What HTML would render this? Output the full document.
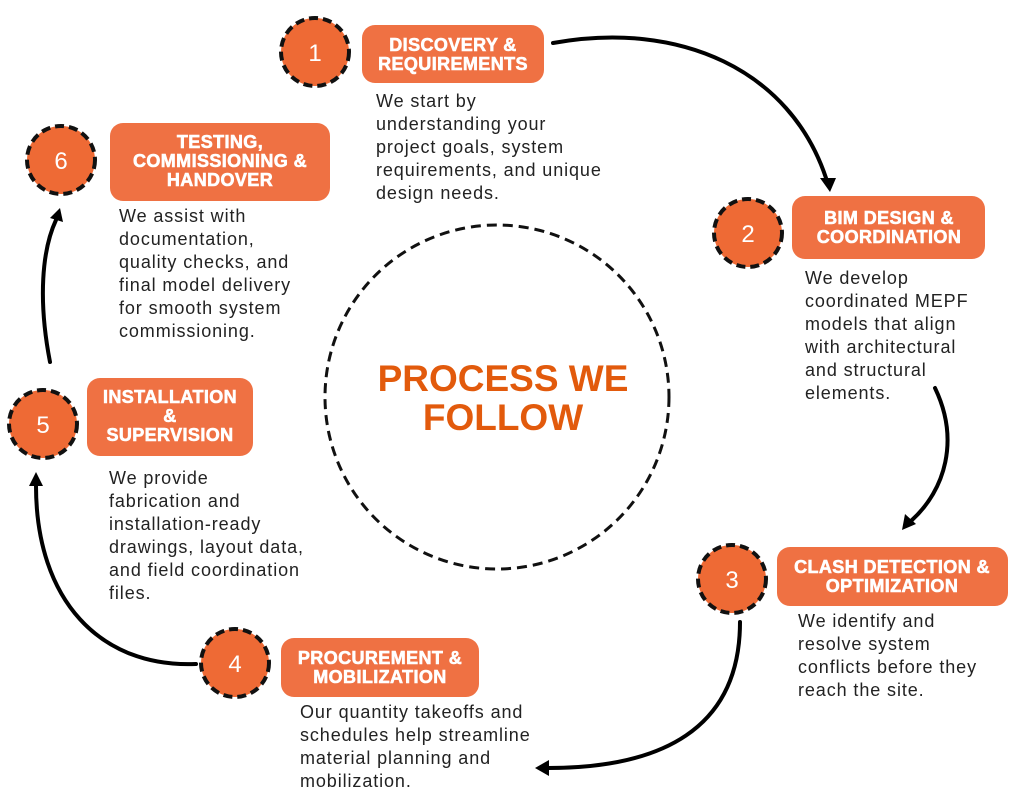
<!DOCTYPE html>
<html><head><meta charset="utf-8"><style>
html,body{margin:0;padding:0;background:#fff;width:1024px;height:800px;overflow:hidden}
svg{display:block}
.h{font-family:"Liberation Sans",sans-serif;font-weight:900;fill:#fff;font-size:18px;text-anchor:middle;letter-spacing:0.4px;stroke:#fff;stroke-width:0.6}
.d{font-family:"Liberation Sans",sans-serif;fill:#222;font-size:18px;letter-spacing:0.9px}
.n{font-family:"Liberation Sans",sans-serif;fill:#fff;font-size:24px;text-anchor:middle}
.c{fill:#ee6a35;stroke:#111;stroke-width:4;stroke-dasharray:9 5}
.b{fill:#ef7143}
.a{fill:none;stroke:#000;stroke-width:4;stroke-linecap:round}
</style></head><body>
<svg width="1024" height="800" viewBox="0 0 1024 800">
<circle cx="497" cy="397" r="172" fill="none" stroke="#111" stroke-width="3" stroke-dasharray="10 6"/>
<text x="503" y="391" font-family="Liberation Sans,sans-serif" font-weight="700" font-size="37" fill="#e25a0c" text-anchor="middle">PROCESS WE</text>
<text x="503" y="430" font-family="Liberation Sans,sans-serif" font-weight="700" font-size="37" fill="#e25a0c" text-anchor="middle">FOLLOW</text>

<path class="a" d="M553,43 C680,20 790,70 826,178"/>
<polygon points="820,178 836,178 830,192"/>
<path class="a" d="M935,388 C960,440 945,490 912,520"/>
<polygon points="905,514 916,524 902,530"/>
<path class="a" d="M740,622 C740,730 660,768 548,768"/>
<polygon points="549,760 549,776 535,768"/>
<path class="a" d="M196,664 C100,668 36,600 36,486"/>
<polygon points="29,486 43,486 36,472"/>
<path class="a" d="M50,362 C38,300 42,250 56,220"/>
<polygon points="50,218 63,222 60,208"/>

<circle class="c" cx="315" cy="52" r="34"/><text class="n" x="315" y="61">1</text>
<rect class="b" x="362" y="25" width="182" height="58" rx="13"/>
<text class="h" x="453" y="51">DISCOVERY &amp;</text><text class="h" x="453" y="70">REQUIREMENTS</text>
<text class="d" x="376" y="107"> We start by</text><text class="d" x="376" y="130">understanding your</text><text class="d" x="376" y="153">project goals, system</text><text class="d" x="376" y="176">requirements, and unique</text><text class="d" x="376" y="199">design needs.</text>

<circle class="c" cx="748" cy="233" r="34"/><text class="n" x="748" y="242">2</text>
<rect class="b" x="792" y="196" width="193" height="63" rx="13"/>
<text class="h" x="889" y="224">BIM DESIGN &amp;</text><text class="h" x="889" y="243">COORDINATION</text>
<text class="d" x="805" y="284">We develop</text><text class="d" x="805" y="307">coordinated MEPF</text><text class="d" x="805" y="330">models that align</text><text class="d" x="805" y="353">with architectural</text><text class="d" x="805" y="376">and structural</text><text class="d" x="805" y="399">elements.</text>

<circle class="c" cx="732" cy="579" r="34"/><text class="n" x="732" y="588">3</text>
<rect class="b" x="777" y="547" width="231" height="59" rx="13"/>
<text class="h" x="892" y="573">CLASH DETECTION &amp;</text><text class="h" x="892" y="592">OPTIMIZATION</text>
<text class="d" x="798" y="627">We identify and</text><text class="d" x="798" y="650">resolve system</text><text class="d" x="798" y="673">conflicts before they</text><text class="d" x="798" y="696">reach the site.</text>

<circle class="c" cx="235" cy="663" r="34"/><text class="n" x="235" y="672">4</text>
<rect class="b" x="281" y="638" width="198" height="59" rx="13"/>
<text class="h" x="380" y="664">PROCUREMENT &amp;</text><text class="h" x="380" y="683">MOBILIZATION</text>
<text class="d" x="300" y="718">Our quantity takeoffs and</text><text class="d" x="300" y="741">schedules help streamline</text><text class="d" x="300" y="764">material planning and</text><text class="d" x="300" y="787">mobilization.</text>

<circle class="c" cx="43" cy="424" r="34"/><text class="n" x="43" y="433">5</text>
<rect class="b" x="87" y="378" width="166" height="78" rx="13"/>
<text class="h" x="170" y="403">INSTALLATION</text><text class="h" x="170" y="422">&amp;</text><text class="h" x="170" y="441">SUPERVISION</text>
<text class="d" x="109" y="484">We provide</text><text class="d" x="109" y="507">fabrication and</text><text class="d" x="109" y="530">installation-ready</text><text class="d" x="109" y="553">drawings, layout data,</text><text class="d" x="109" y="576">and field coordination</text><text class="d" x="109" y="599">files.</text>

<circle class="c" cx="61" cy="160" r="34"/><text class="n" x="61" y="169">6</text>
<rect class="b" x="110" y="123" width="220" height="78" rx="13"/>
<text class="h" x="220" y="148">TESTING,</text><text class="h" x="220" y="167">COMMISSIONING &amp;</text><text class="h" x="220" y="186">HANDOVER</text>
<text class="d" x="119" y="222">We assist with</text><text class="d" x="119" y="245">documentation,</text><text class="d" x="119" y="268">quality checks, and</text><text class="d" x="119" y="291">final model delivery</text><text class="d" x="119" y="314">for smooth system</text><text class="d" x="119" y="337">commissioning.</text>
</svg>
</body></html>
